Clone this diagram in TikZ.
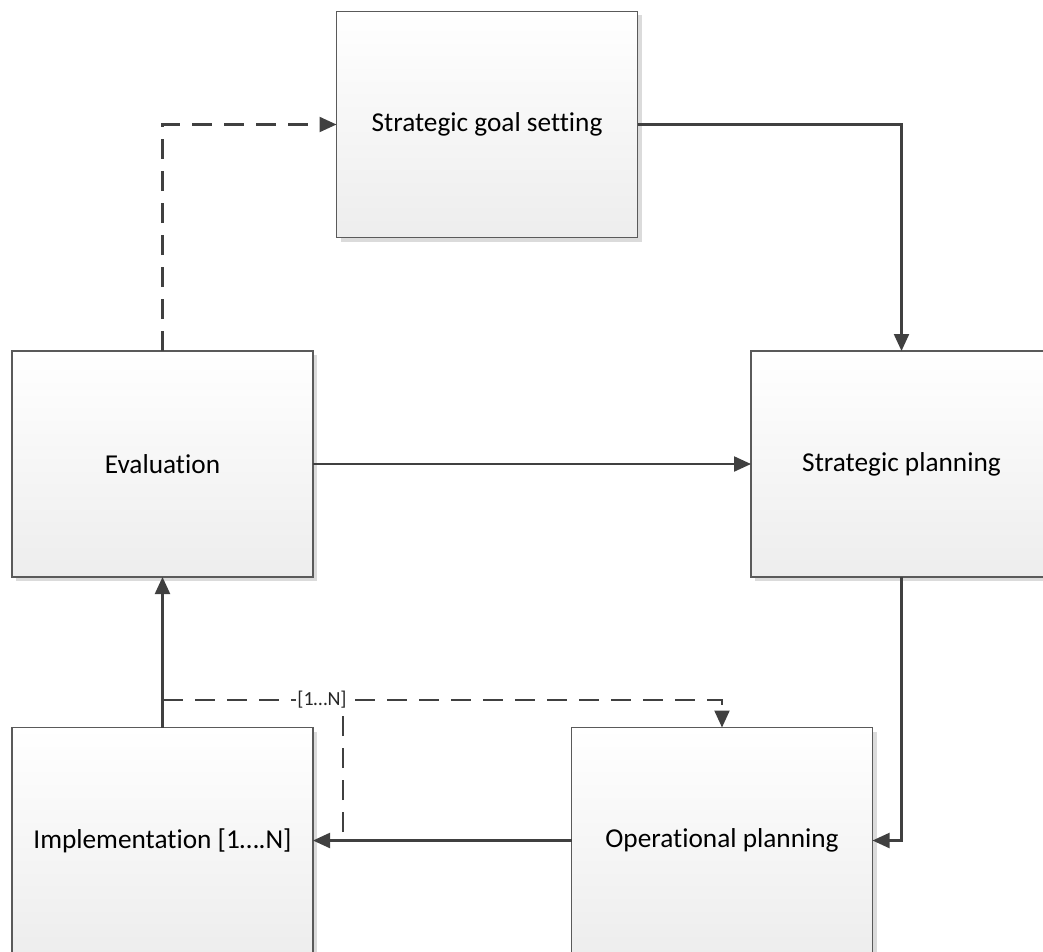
\documentclass[tikz,border=0pt]{standalone}
\usepackage{fontspec}
\setmainfont{Carlito}[Ligatures=NoCommon]
\usetikzlibrary{arrows.meta,shadows}
\definecolor{linec}{HTML}{404040}
\definecolor{boxline}{HTML}{5A5A5A}
\tikzset{
  procbox/.style={draw=boxline, line width=1.3pt, minimum width=301pt, minimum height=226pt,
    inner sep=0pt, outer sep=0pt, top color=white, bottom color=black!7,
    font=\fontsize{27.3}{31}\selectfont,
    drop shadow={shadow xshift=4pt, shadow yshift=-4pt, fill=black!14, opacity=1}},
  conn/.style={draw=linec, line width=2.2pt, -{Triangle[length=17pt,width=15pt]}},
  dconn/.style={conn, dash pattern=on 20pt off 12pt},
  dline/.style={draw=linec, line width=2.2pt, dash pattern=on 20pt off 12pt},
  lbl/.style={fill=white, inner sep=1.5pt, font=\fontsize{20}{22}\selectfont, text=black!85}
}
\begin{document}
\begin{tikzpicture}[x=1pt,y=-1pt]
\useasboundingbox (0,0) rectangle (1043,952);
\clip (0,0) rectangle (1043,952);
\node[procbox] (goal) at (487,124.5) {Strategic goal setting};
\node[procbox] (eval) at (162.5,464) {Evaluation};
\node[procbox] (sp) at (901.5,464) {Strategic planning};
\node[procbox] (impl) at (162.5,840.5) {Implementation [1….N]};
\node[procbox] (op) at (722,840.5) {Operational planning};

\draw[conn] (goal.east) -| (sp.north);
\draw[conn] (sp.south) |- (op.east);
\draw[conn] (eval.east) -- (sp.west);
\draw[conn] (op.west) -- (impl.east);
\draw[conn] (impl.north) -- (eval.south);
\draw[dconn] (eval.north) |- (goal.west);

\coordinate (dstart) at (163,700);
\coordinate (tee) at (343,700);
\coordinate (dend) at (343,832);
\draw[dline] (dend) -- (tee);
\draw[dconn] (dstart) -| (op.north);
\node[lbl] (n) at (322,700) {[1…N]};
\end{tikzpicture}
\end{document}
